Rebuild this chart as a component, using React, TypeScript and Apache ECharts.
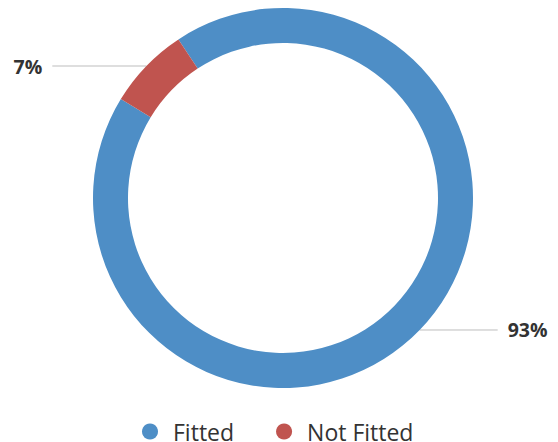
import React, { useEffect, useRef } from "react";
import * as echarts from "echarts";

const categories = ["Fitted", "Not Fitted"];
const values = [93, 7];
const colors = ["#4e8ec6", "#c0544f"];
const lineLengths = [78, 94];

export default function App() {
  const ref = useRef<HTMLDivElement>(null);
  useEffect(() => {
    document.body.style.margin = "0";
    const chart = echarts.init(ref.current!, undefined, { renderer: "svg" });
    const data = categories.map((name, i) => ({
      name,
      value: values[i],
      itemStyle: { color: colors[i] },
      labelLine: { length: 0, length2: lineLengths[i] },
    }));
    chart.setOption({
      animation: false,
      legend: {
        top: 415,
        left: 137,
        icon: "circle",
        itemWidth: 36,
        itemHeight: 16,
        itemGap: 42,
        textStyle: { fontFamily: "Open Sans", fontSize: 23, lineHeight: 20, color: "#333" },
        data: categories,
        selectedMode: false,
      },
      series: [
        {
          type: "pie",
          center: [283, 198],
          radius: [155, 190],
          startAngle: 123.4,
          clockwise: true,
          avoidLabelOverlap: false,
          silent: true,
          label: {
            show: true,
            position: "outside",
            formatter: (p: any) => p.value + "%",
            fontFamily: "Open Sans",
            fontSize: 19.5,
            fontWeight: "bold",
            color: "#333",
            distanceToLabelLine: 10,
          },
          labelLine: {
            show: true,
            lineStyle: { color: "#bdbdbd", width: 1 },
          },
          data,
        },
      ],
    });
    return () => chart.dispose();
  }, []);
  return <div ref={ref} style={{ width: 558, height: 442 }} />;
}
